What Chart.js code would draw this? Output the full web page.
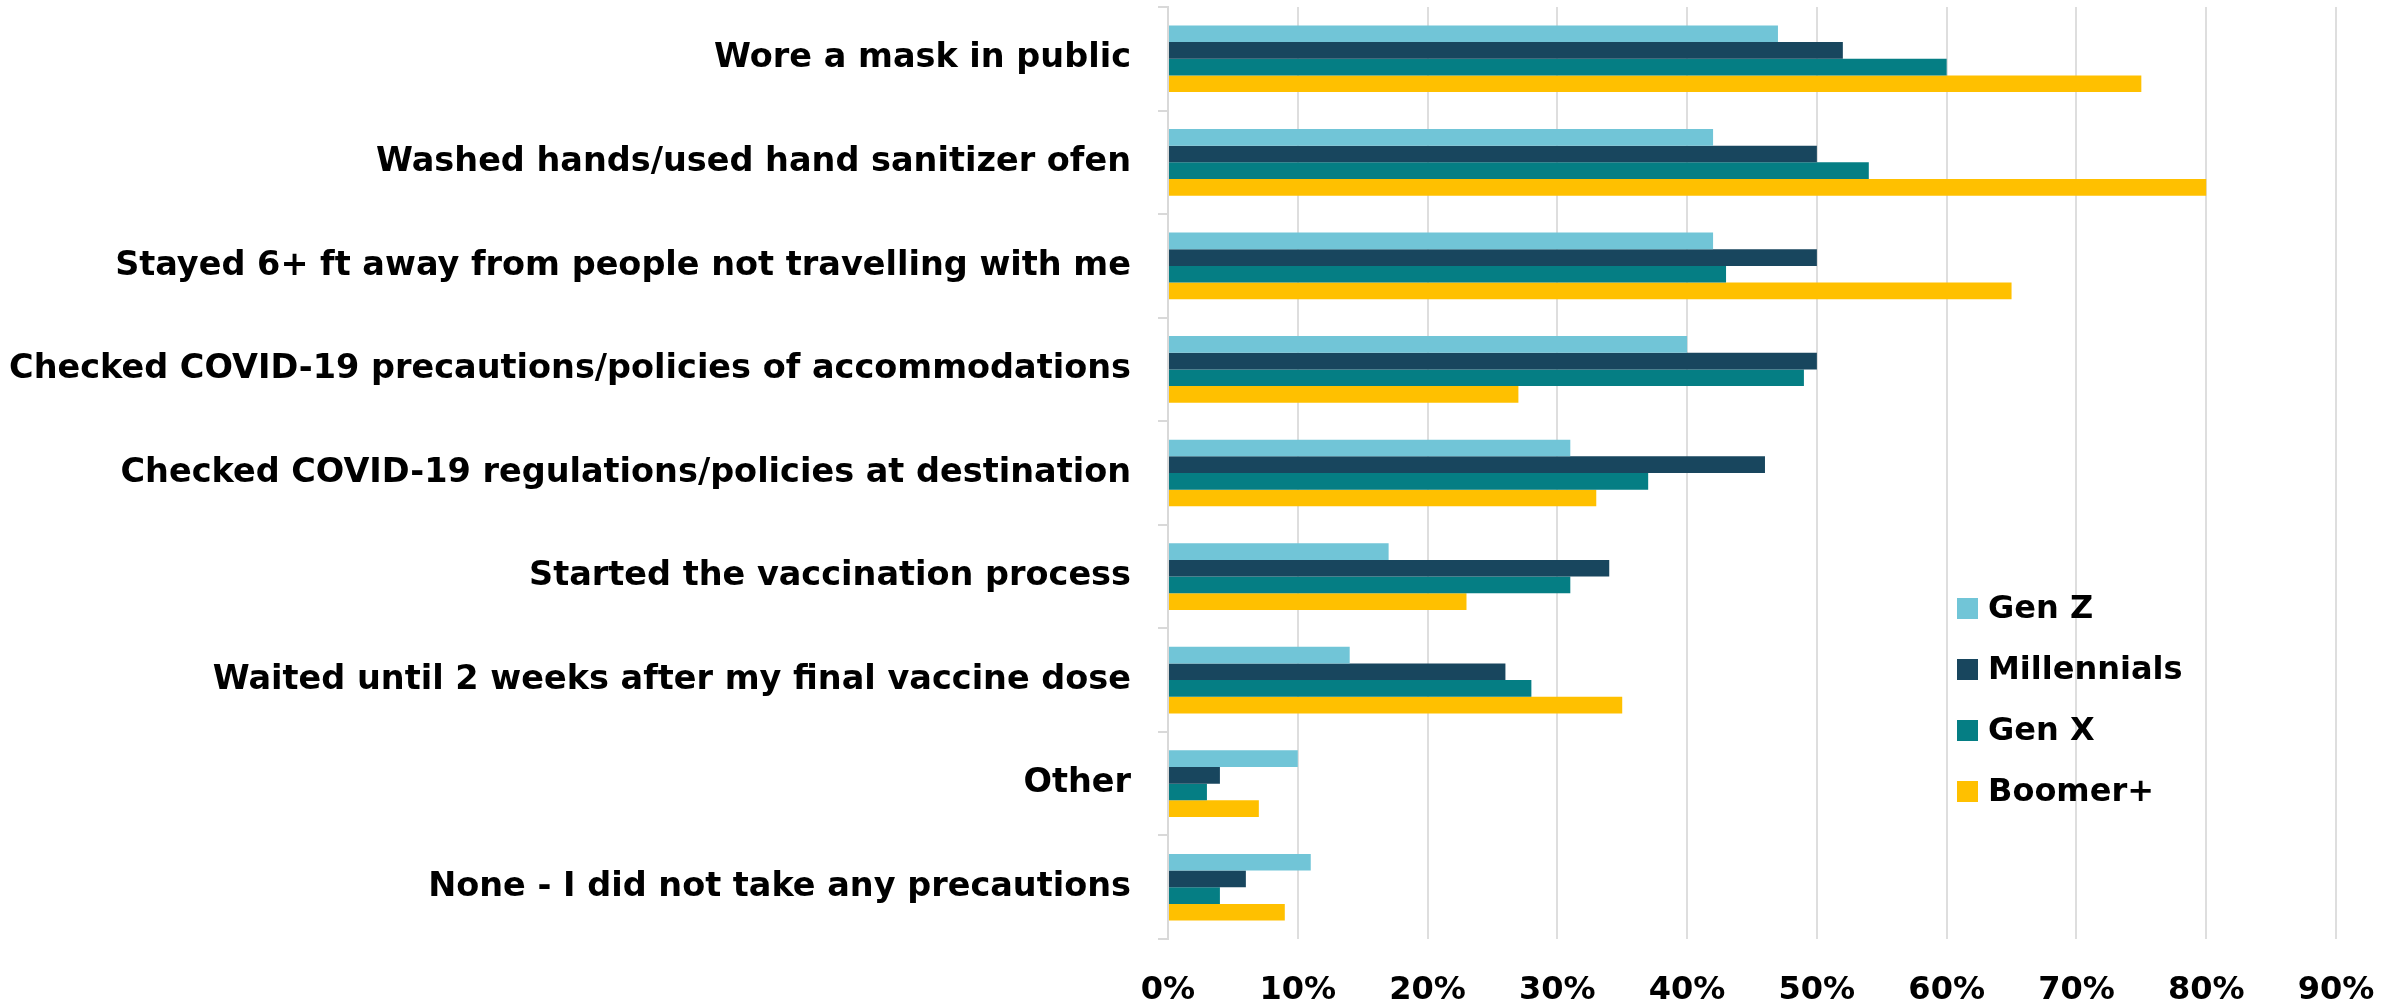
<!DOCTYPE html>
<html>
<head>
<meta charset="utf-8">
<script src="https://cdn.jsdelivr.net/npm/chart.js@4"></script>
<style>
    html, body { margin: 0; padding: 0; background: #ffffff; }
    #wrap { width: 2402px; height: 1005px; position: relative; }
</style>
</head>
<body>
<div id="wrap"><canvas id="precautionsChart"></canvas></div>
<script>
// categories, top to bottom
const categories = [
    'Wore a mask in public',
    'Washed hands/used hand sanitizer ofen',
    'Stayed 6+ ft away from people not travelling with me',
    'Checked COVID-19 precautions/policies of accommodations',
    'Checked COVID-19 regulations/policies at destination',
    'Started the vaccination process',
    'Waited until 2 weeks after my final vaccine dose',
    'Other',
    'None - I did not take any precautions'
];

// percentages
const genZ        = [47, 42, 42, 40, 31, 17, 14, 10, 11];
const millennials = [52, 50, 50, 50, 46, 34, 26, 4, 6];
const genX        = [60, 54, 43, 49, 37, 31, 28, 3, 4];
const boomers     = [75, 80, 65, 27, 33, 23, 35, 7, 9];

const seriesNames = ['Gen Z', 'Millennials', 'Gen X', 'Boomer+'];
const xTicks = [0, 10, 20, 30, 40, 50, 60, 70, 80, 90];

const colors = ['#71c5d7', '#18465e', '#057e84', '#ffc000'];
const fontFamily = '"DejaVu Sans", "Open Sans", sans-serif';

// legend sits inside the plot, to the right of the short bars
const insideLegend = {
    id: 'insideLegend',
    afterDraw(chart) {
        const ctx = chart.ctx;
        const left = 1957;
        const firstRow = 608.5;
        const rowGap = 61;
        ctx.save();
        ctx.font = `bold 32px ${fontFamily}`;
        ctx.textBaseline = 'middle';
        ctx.textAlign = 'left';
        chart.data.datasets.forEach((ds, i) => {
            const y = firstRow + i * rowGap;
            ctx.fillStyle = ds.backgroundColor;
            ctx.fillRect(left, y - 10.5, 21, 21);
            ctx.fillStyle = '#000000';
            ctx.fillText(ds.label, left + 31, y + 1);
        });
        ctx.restore();
    }
};

const seriesData = [genZ, millennials, genX, boomers];

const ctx = document.getElementById('precautionsChart').getContext('2d');
new Chart(ctx, {
    type: 'bar',
    data: {
        labels: categories,
        datasets: seriesData.map((values, i) => ({
            label: seriesNames[i],
            data: values,
            backgroundColor: colors[i],
            borderWidth: 0,
            categoryPercentage: 0.644,
            barPercentage: 1.0
        }))
    },
    options: {
        indexAxis: 'y',
        responsive: true,
        maintainAspectRatio: false,
        animation: false,
        layout: {
            padding: { top: 7, right: 66, left: 0, bottom: 0 }
        },
        scales: {
            x: {
                min: 0,
                max: 90,
                afterBuildTicks: scale => {
                    scale.ticks = xTicks.map(v => ({ value: v }));
                },
                afterFit: scale => {
                    scale.height = 66;
                    scale.paddingLeft = 0;
                    scale.paddingRight = 0;
                },
                grid: {
                    color: '#dedede',
                    lineWidth: 2,
                    drawTicks: false
                },
                border: { display: false },
                ticks: {
                    padding: 32,
                    color: '#000000',
                    font: { family: fontFamily, size: 32, weight: 'bold' },
                    callback: v => v + '%'
                }
            },
            y: {
                afterFit: scale => {
                    scale.width = 1168;
                    scale.paddingTop = 0;
                    scale.paddingBottom = 0;
                },
                grid: {
                    offset: true,
                    drawOnChartArea: false,
                    color: '#d9d9d9',
                    lineWidth: 2,
                    tickLength: 10
                },
                border: { color: '#d9d9d9', width: 2 },
                ticks: {
                    padding: 27,
                    color: '#000000',
                    font: { family: fontFamily, size: 33.5, weight: 'bold' }
                }
            }
        },
        plugins: {
            legend: { display: false },
            tooltip: { enabled: false }
        }
    },
    plugins: [insideLegend]
});
</script>
</body>
</html>
